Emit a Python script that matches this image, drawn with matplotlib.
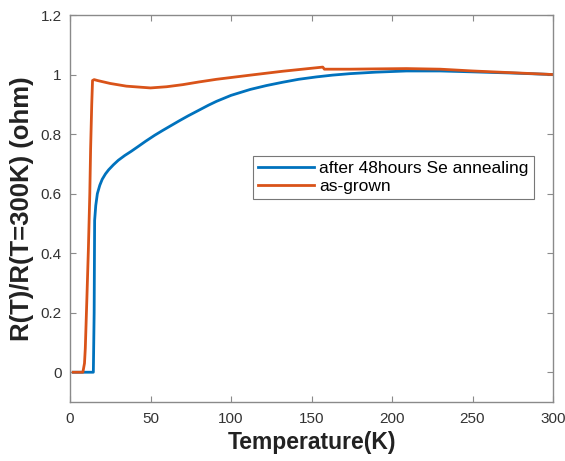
import matplotlib
matplotlib.use("Agg")
import matplotlib.pyplot as plt

# R(T)/R(300K) curves for the two samples
temp_annealed = [2, 14.5, 15.0, 15.3, 16, 17, 18.5, 20, 22, 24, 27, 30, 34, 38, 42, 47,
                 52.6, 57.5, 62.9, 68, 73.3, 80, 86, 91, 100, 112, 122, 132, 142, 153, 163,
                 174, 190, 209, 230, 250, 275, 300]
r_annealed = [0, 0, 0.2, 0.51, 0.56, 0.60, 0.628, 0.648, 0.666, 0.68, 0.697, 0.712, 0.728,
              0.742, 0.757, 0.776, 0.796, 0.812, 0.829, 0.845, 0.861, 0.88, 0.897, 0.91, 0.93,
              0.95, 0.963, 0.974, 0.984, 0.992, 0.998, 1.003, 1.008, 1.012, 1.012, 1.009,
              1.005, 1.0]

temp_grown = [2, 8, 9, 9.5, 10.5, 11.4, 12.3, 12.8, 13.5, 14, 15, 17, 25, 35, 50, 60, 70, 80,
              91, 100, 112, 132, 157, 158, 174, 190, 209, 230, 250, 275, 300]
r_grown = [0, 0, 0.03, 0.08, 0.25, 0.41, 0.6, 0.75, 0.9, 0.98, 0.983, 0.98, 0.97, 0.961,
           0.955, 0.959, 0.966, 0.975, 0.984, 0.99, 0.998, 1.011, 1.025, 1.018, 1.018, 1.019,
           1.02, 1.018, 1.012, 1.006, 1.0]

x_ticks = [0, 50, 100, 150, 200, 250, 300]
y_ticks = [0, 0.2, 0.4, 0.6, 0.8, 1, 1.2]
y_tick_labels = ["0", "0.2", "0.4", "0.6", "0.8", "1", "1.2"]

plt.rcParams["font.family"] = ["Liberation Sans", "DejaVu Sans"]

fig = plt.figure(figsize=(5.65, 4.61), dpi=100)
ax = fig.add_axes([70 / 565, 1 - 402 / 461, 483 / 565, 387 / 461])

ax.plot(temp_annealed, r_annealed, color="#0072BD", lw=2.0, label="after 48hours Se annealing")
ax.plot(temp_grown, r_grown, color="#D95319", lw=2.0, label="as-grown")

ax.set_xlim(0, 300)
ax.set_ylim(-0.1, 1.2)
ax.set_xticks(x_ticks)
ax.set_yticks(y_ticks)
ax.set_yticklabels(y_tick_labels)

axis_color = "#8a8a8a"
for spine in ax.spines.values():
    spine.set_color(axis_color)
    spine.set_linewidth(1.0)
ax.tick_params(direction="in", top=True, right=True, length=4, width=0.8,
               color=axis_color, labelcolor="#333333", labelsize=11)
ax.tick_params(axis="x", pad=7)
ax.tick_params(axis="y", pad=6)

ax.set_xlabel("Temperature(K)", fontsize=16.5, fontweight="bold", color="#222222", labelpad=4)
ax.set_ylabel("R(T)/R(T=300K) (ohm)", fontsize=18.5, fontweight="bold", color="#222222", labelpad=5)

leg = ax.legend(loc="upper left", bbox_to_anchor=((253 - 70) / 483, (402 - 156) / 387),
                fontsize=12.5, frameon=True, fancybox=False, framealpha=1,
                edgecolor="#777777", handlelength=3.2, handletextpad=0.3,
                borderpad=0.3, labelspacing=0.15, borderaxespad=0)
leg.get_frame().set_linewidth(0.8)

fig.savefig("out.png", dpi=100, facecolor="white")
